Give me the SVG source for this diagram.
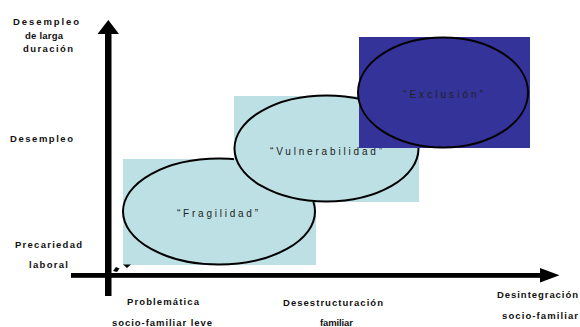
<svg xmlns="http://www.w3.org/2000/svg" width="580" height="327" viewBox="0 0 580 327">
<style>
.ax{font-family:"Liberation Sans",Arial,sans-serif;font-size:9.5px;font-weight:bold;fill:#111;}
.lb{font-family:"Liberation Sans",Arial,sans-serif;font-size:10px;fill:#222;}
.lt{fill:#BCE0E4;}
.dk{fill:#333399;}
.el{stroke:#000;stroke-width:2;}
</style>
<rect width="580" height="327" fill="#fff"/>
<g id="fragilidad">
<rect class="lt" x="123" y="159" width="193" height="106"/>
<ellipse class="lt el" cx="219" cy="211.5" rx="96" ry="53"/>
<text class="lb" x="177" y="217" textLength="81" lengthAdjust="spacing">“Fragilidad”</text>
</g>
<g id="vulnerabilidad">
<rect class="lt" x="234" y="96" width="185" height="106"/>
<ellipse class="lt el" cx="326.5" cy="148.5" rx="92" ry="53"/>
<text class="lb" x="270" y="155" textLength="112" lengthAdjust="spacing">“Vulnerabilidad”</text>
</g>
<g id="exclusion">
<rect class="dk" x="359" y="37" width="171" height="111"/>
<ellipse class="dk el" cx="443" cy="92.5" rx="85" ry="55"/>
<text class="lb" x="403" y="98" textLength="80" lengthAdjust="spacing">“Exclusión”</text>
</g>
<g id="connectors">
<rect x="105" y="32" width="6.5" height="264" fill="#000"/>
<polygon points="97.5,34 108.3,20 119,34" fill="#000"/>
<rect x="71" y="273" width="471" height="4.8" fill="#000"/>
<polygon points="540,268 559.5,275.2 540,282.5" fill="#000"/>
<polygon points="113,271 116,267 119.5,268.5 117,272" fill="#000"/>
<polygon points="123,264.5 131,264.5 127,268" fill="#000"/>
</g>
<g id="labels">
<text class="ax" x="13" y="25" textLength="66" lengthAdjust="spacing">Desempleo</text>
<text class="ax" x="25" y="38.5" textLength="38" lengthAdjust="spacing">de larga</text>
<text class="ax" x="23" y="51.5" textLength="50" lengthAdjust="spacing">duración</text>
<text class="ax" x="10" y="142" textLength="63" lengthAdjust="spacing">Desempleo</text>
<text class="ax" x="15" y="248" textLength="67" lengthAdjust="spacing">Precariedad</text>
<text class="ax" x="29" y="268" textLength="39" lengthAdjust="spacing">laboral</text>
<text class="ax" x="127" y="305" textLength="72" lengthAdjust="spacing">Problemática</text>
<text class="ax" x="112" y="326" textLength="100" lengthAdjust="spacing">socio-familiar leve</text>
<text class="ax" x="283" y="305.5" textLength="100" lengthAdjust="spacing">Desestructuración</text>
<text class="ax" x="320" y="325.5" textLength="33" lengthAdjust="spacing">familiar</text>
<text class="ax" x="497" y="298" textLength="81" lengthAdjust="spacing">Desintegración</text>
<text class="ax" x="502" y="319" textLength="76" lengthAdjust="spacing">socio-familiar</text>
</g>
</svg>
